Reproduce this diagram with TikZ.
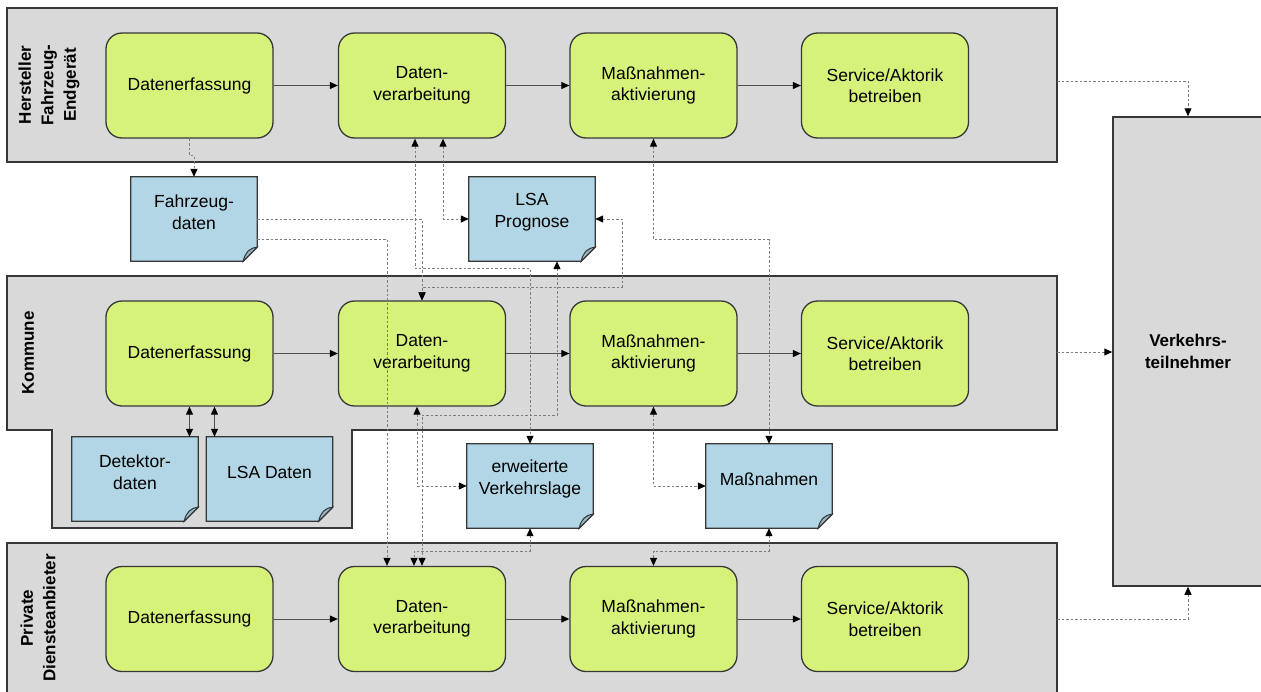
\documentclass[tikz,border=0pt]{standalone}
\usepackage{fontspec}
\setmainfont{Liberation Sans}
\usetikzlibrary{arrows.meta,calc}

\definecolor{lanegray}{RGB}{217,217,217}
\definecolor{procgreen}{RGB}{215,242,122}
\definecolor{docblue}{RGB}{178,214,229}
\definecolor{foldblue}{RGB}{150,182,198}
\definecolor{edgegray}{RGB}{55,55,55}
\definecolor{flowgray}{RGB}{80,80,80}
\definecolor{linkgray}{RGB}{125,125,125}

\tikzset{
  >={Triangle[length=8pt,width=7pt,color=black]},
  lane/.style={fill=lanegray, draw=edgegray, line width=1.8pt},
  proc/.style={rectangle, rounded corners=16pt, fill=procgreen, draw=edgegray,
    line width=1.3pt, minimum width=167pt, minimum height=105pt, align=center,
    inner sep=0pt, font=\fontsize{17.5}{21.5}\selectfont},
  docbox/.style={rectangle, inner sep=0pt, minimum width=126pt, minimum height=84pt},
  docline/.style={fill=docblue, draw=edgegray, line width=1.3pt},
  docfold/.style={fill=foldblue, draw=edgegray, line width=1pt},
  doctext/.style={align=center, inner sep=0pt, font=\fontsize{17.5}{21.5}\selectfont},
  lanelabel/.style={rotate=90, align=center, inner sep=0pt,
    font=\bfseries\fontsize{17}{22.5}\selectfont},
  actor/.style={rectangle, fill=lanegray, draw=edgegray, line width=1.5pt,
    minimum width=150pt, minimum height=469pt, align=center,
    font=\bfseries\fontsize{17}{22}\selectfont},
  flow/.style={draw=flowgray, line width=1pt, ->},
  link/.style={draw=linkgray, line width=1pt, dash pattern=on 2.5pt off 2pt},
}

% document symbol with a folded lower right corner
\newcommand\docsheet[4]{%
  \node[docbox] (#1) at (#2,#3) {};
  \draw[docline] (#1.north west) -- (#1.north east)
    -- ($(#1.south east)+(0,-14)$) -- ($(#1.south east)+(-14,0)$)
    -- (#1.south west) -- cycle;
  \draw[docfold] ($(#1.south east)+(0,-14)$)
    .. controls ($(#1.south east)+(-8,-13)$) and ($(#1.south east)+(-12,-9)$)
    .. ($(#1.south east)+(-14,0)$) -- cycle;
  \node[doctext] (#1-t) at ($(#1.center)+(0,-7)$) {#4};
}

\begin{document}
\begin{tikzpicture}[x=1pt,y=-1pt]
\useasboundingbox (0,0) rectangle (1261,691);

% swimlanes
\draw[lane] (7,8) rectangle (1057,162);
\draw[lane] (7,276) -- (1057,276) -- (1057,430) -- (352,430) -- (352,528)
  -- (52,528) -- (52,430) -- (7,430) -- cycle;
\draw[lane] (7,543) rectangle (1057,697);

\node[lanelabel] (lab1) at (49,85) {Hersteller\\Fahrzeug-\\Endgerät};
\node[lanelabel] (lab2) at (28,353) {Kommune};
\node[lanelabel] (lab3) at (38,618) {Private\\Diensteanbieter};

\coordinate (l1e) at (1057,81);
\coordinate (l2e) at (1057,352);
\coordinate (l3e) at (1057,619);

% road user
\node[actor] (vt) at (1188,351.5) {Verkehrs-\\teilnehmer};

% process steps
\foreach \r/\y in {1/85.5, 2/353.5, 3/619} {
  \node[proc] (de\r) at (189.5,\y) {Datenerfassung};
  \node[proc] (dv\r) at (422,\y) {Daten-\\verarbeitung};
  \node[proc] (ma\r) at (653.5,\y) {Maßnahmen-\\aktivierung};
  \node[proc] (sa\r) at (885,\y) {Service/Aktorik\\betreiben};
  \draw[flow] (de\r) -- (dv\r);
  \draw[flow] (dv\r) -- (ma\r);
  \draw[flow] (ma\r) -- (sa\r);
}

% data stores
\docsheet{fz}{194}{219}{Fahrzeug-\\daten}
\docsheet{lsap}{532}{219}{LSA\\Prognose}
\docsheet{det}{135}{479}{Detektor-\\daten}
\docsheet{lsad}{269.5}{479}{LSA Daten}
\docsheet{erw}{530}{486}{erweiterte\\Verkehrslage}
\docsheet{mn}{769}{486}{Maßnahmen}

% local sensor data
\coordinate (dq) at ($(de2.south)+(25,0)$);
\draw[flow,<->] (de2.south) -- (de2.south |- det.north);
\draw[flow,<->] (dq) -- (dq |- lsad.north);

% information exchange
\draw[link,->] (de1.south) -- ++(0,17) -| (fz.north);
\draw[link,->] (fz.east) -| (dv2.north);
\draw[link,->] ($(fz.east)+(0,20)$) -| ($(dv3.north)+(-35,0)$);
\draw[link,<->] ($(dv1.south)+(-7,0)$) -- ++(0,130) -| (erw.north);
\draw[link,<->] ($(dv1.south)+(21,0)$) |- (lsap.west);
\draw[link,<->] ($(lsap.south)+(25,0)$) -- ++(0,154) -| (dv3.north);
\draw[link,<->] (lsap.east) -- ++(27,0) -- ++(0,68) -| (dv2.north);
\draw[link,<->] ($(dv2.south)+(-5,0)$) |- (erw.west);
\draw[link,<->] (erw.south) -- ++(0,23) -| ($(dv3.north)+(-8,0)$);
\draw[link,<->] (ma1.south) -- ++(0,101) -| (mn.north);
\draw[link,<->] (ma2.south) |- (mn.west);
\draw[link,<->] (mn.south) -- ++(0,23) -| (ma3.north);

% services reaching the road user
\draw[link,->] (l1e) -| (vt.north);
\draw[link,->] (l2e) -- (l2e -| vt.west);
\draw[link,->] (l3e) -| (vt.south);
\end{tikzpicture}
\end{document}
